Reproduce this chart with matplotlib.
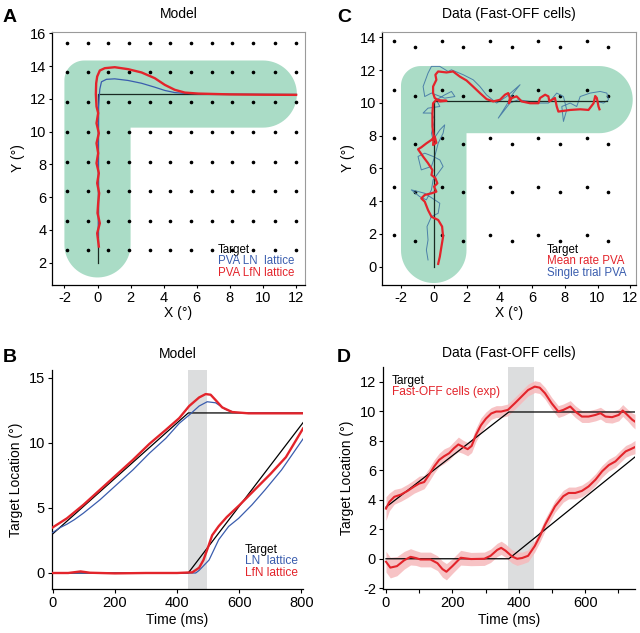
import numpy as np
import matplotlib
matplotlib.use("Agg")
import matplotlib.pyplot as plt
from matplotlib.patches import Polygon

plt.rcParams['font.family'] = ['Liberation Sans', 'DejaVu Sans']
plt.rcParams['axes.unicode_minus'] = False

# ---------------- DATA ----------------
# Panel A (model, 2D trajectory)
A_lat_x = [-1.86, -0.6, 0.65, 1.9, 3.15, 4.4, 5.65, 6.9, 8.15, 9.4, 10.7, 12.0]
A_lat_y = [2.78, 4.57, 6.39, 8.14, 10.01, 11.81, 13.62, 15.41]
A_target_x = [0, 0, 12]
A_target_y = [2.0, 12.3, 12.3]
A_ln_x = [0.05, 0.06, 0.05, 0.06, 0.1, 0.14, 0.24, 0.54, 1.04, 1.85, 2.66, 3.46, 4.07, 4.67, 5.28, 7.0, 12.0]
A_ln_y = [3.6, 6.0, 9.0, 11.5, 12.1, 12.6, 13.05, 13.2, 13.23, 13.13, 12.96, 12.72, 12.52, 12.39, 12.34, 12.3, 12.27]
A_lfn_x = [0.08, -0.02, 0.14, 0.0, 0.04, 0.1, -0.02, 0.08, -0.06, 0.04, -0.06, 0.08, -0.06, 0.04, -0.06, -0.1,
           -0.08, -0.02, 0.14, 0.44, 1.04, 1.85, 2.66, 3.46, 4.07, 4.67, 5.28, 6.08, 8.0, 10.0, 12.0]
A_lfn_y = [2.99, 3.8, 4.41, 5.03, 5.64, 6.25, 6.86, 7.47, 8.08, 8.69, 9.3, 9.91, 10.52, 11.14, 11.54, 12.3,
           12.96, 13.37, 13.74, 13.88, 13.94, 13.82, 13.62, 13.27, 12.86, 12.56, 12.39, 12.33, 12.28, 12.26, 12.25]

# Panel C (data, 2D trajectory)
C_lat_x1 = [-2.45, 0.51, 3.45, 6.39, 9.35]
C_lat_y1 = [13.75, 10.8, 7.85, 4.89, 1.92]
C_lat_x2 = [-1.16, 1.8, 4.76, 7.7, 10.63]
C_lat_y2 = [13.41, 10.45, 7.5, 4.55, 1.57]
C_target_x = [0, 0, 10.6]
C_target_y = [0.0, 10.1, 10.1]
C_mean_x = [0.27, 0.37, 0.47, 0.57, 0.51, 0.27, -0.14, -0.35, -0.55, -0.76, -0.55, -0.14, 0.16, 0.02, 0.22,
            0.1, -0.14, -0.08, -0.35, -0.65, -0.96, -0.76, -0.45, -0.14, 0.06, 0.16, -0.04, 0.0, -0.08, -0.08,
            -0.04, 0.16, 0.47, 0.78, 0.37, 0.06, -0.04, -0.04, 0.16, 0.1, 0.27, 0.78, 1.18, 1.59, 2.0, 2.4,
            2.82, 3.23, 3.63, 4.04, 4.35, 4.55, 4.65, 4.59, 4.76, 5.06, 5.37, 5.88, 6.39, 6.49, 6.8, 7.0,
            7.06, 7.4, 7.51, 7.61, 8.33, 8.94, 9.45, 9.76, 9.86, 9.96, 10.06, 10.12]
C_mean_y = [0.17, 0.61, 1.23, 1.83, 2.45, 2.85, 3.05, 3.46, 3.97, 4.17, 4.38, 4.48, 4.58, 4.89, 5.09,
            5.4, 5.6, 5.9, 6.32, 6.72, 7.17, 7.29, 7.53, 7.74, 7.94, 7.57, 7.43, 7.94, 8.56, 9.37,
            9.98, 10.19, 10.15, 10.13, 10.09, 10.3, 10.6, 11.0, 11.41, 11.72, 11.92, 11.86, 11.92, 11.61, 11.37, 11.0,
            10.6, 10.23, 10.09, 10.19, 10.5, 10.6, 10.3, 9.98, 10.3, 10.4, 10.09, 9.98, 9.98, 10.3, 10.5, 10.4,
            10.09, 10.3, 9.78, 9.47, 9.57, 9.61, 9.57, 9.98, 10.42, 10.3, 9.78, 9.61]
C_single_x = [-0.35, -0.45, -0.35, -0.41, -0.14, 0.27, 0.37, 0.06, -0.55, -0.96, -1.37, -0.86, -0.45, -0.14,
              -0.04, 0.27, 0.57, 0.37, -0.04, -0.55, -0.96, -0.76, -0.14, 0.06, 0.27, 0.57, 0.67, 0.37, -0.04,
              -0.14, 0.06, -0.14, -0.65, -0.35, 0.37, 0.16, 0.67, 1.08, 1.29, 0.67, -0.14, -0.55, -0.65, -0.35,
              -0.14, 0.37, 0.88, 1.08, 1.8, 2.41, 2.82, 3.22, 3.84, 4.45, 5.27, 4.86, 4.45, 3.94, 4.65, 5.16,
              5.88, 6.49, 7.0, 7.51, 7.92, 8.12, 7.92, 7.82, 8.33, 8.73, 8.94, 9.55, 10.16, 10.57, 10.67, 10.37, 9.96]
C_single_y = [0.41, 1.02, 1.63, 2.45, 3.06, 3.26, 3.87, 4.08, 4.48, 4.59, 4.69, 4.28, 4.08, 4.69,
              5.3, 5.71, 6.12, 6.52, 6.73, 6.93, 6.73, 5.91, 6.12, 6.73, 7.54, 8.15, 8.66, 8.35, 7.74,
              8.15, 8.97, 9.38, 9.38, 9.68, 9.78, 10.19, 10.49, 10.7, 10.39, 10.29, 10.6, 10.39, 11.0, 11.82,
              12.23, 12.23, 11.92, 12.02, 11.72, 11.41, 11.0, 10.49, 9.99, 10.39, 11.11, 10.6, 9.88, 9.07, 9.99, 10.19,
              10.09, 9.99, 9.99, 10.6, 10.39, 9.58, 8.87, 9.78, 9.99, 9.78, 10.39, 10.6, 10.7, 10.6, 10.19, 9.99, 10.09]

# Panel B (model, time courses)
B_band = [436, 495]
B_tgt_t = [0, 436, 805]
B_tgt_up = [3.0, 12.3, 12.3]
B_tgt_lo = [0.0, 0.0, 11.55]
B_red_up_t = [0, 46, 99, 152, 205, 258, 311, 364, 407, 439, 471, 492, 508, 524, 545, 577, 630, 805]
B_red_up = [3.5, 4.2, 5.24, 6.39, 7.54, 8.69, 9.92, 11.0, 11.9, 12.83, 13.49, 13.75, 13.7, 13.29, 12.73, 12.37, 12.27, 12.27]
B_blue_up_t = [0, 25, 46, 70, 99, 152, 205, 258, 311, 364, 407, 439, 471, 497, 524, 556, 588, 805]
B_blue_up = [3.1, 3.5, 3.75, 4.1, 4.6, 5.62, 6.77, 7.92, 9.2, 10.35, 11.5, 12.14, 12.83, 13.16, 13.08, 12.57, 12.32, 12.27]
B_red_lo_t = [0, 50, 90, 120, 200, 300, 400, 449, 471, 485, 500, 513, 534, 560, 600, 650, 700, 750, 805]
B_red_lo = [0.0, 0.0, 0.12, 0.02, -0.03, 0.0, 0.0, 0.05, 0.4, 1.0, 2.0, 2.9, 3.6, 4.3, 5.2, 6.4, 7.6, 8.9, 11.1]
B_blue_lo_t = [0, 100, 200, 300, 400, 460, 471, 503, 534, 566, 598, 641, 683, 736, 805]
B_blue_lo = [0.0, 0.0, -0.02, 0.0, 0.0, 0.0, 0.2, 1.0, 2.56, 3.58, 4.2, 5.24, 6.39, 7.92, 10.3]

# Panel D (data, time courses)
D_band = [367, 446]
D_tgt_t = [0, 370, 750]
D_tgt_up = [3.5, 9.95, 9.95]
D_tgt_lo = [0.0, 0.0, 6.9]
D_up_t = [0, 10, 25, 45, 65, 85, 100, 115, 130, 145, 160, 175, 190, 205, 218, 231, 246, 258, 271, 286, 301,
          317, 332, 347, 367, 388, 408, 428, 448, 463, 479, 499, 519, 534, 555, 570, 590, 610, 631, 646, 661,
          681, 701, 713, 727, 742, 750]
D_up = [3.4, 3.85, 4.2, 4.35, 4.6, 4.9, 5.1, 5.2, 5.7, 6.25, 6.7, 6.95, 7.15, 7.5, 7.75, 7.6, 7.43, 7.65, 8.4,
        9.05, 9.5, 9.85, 9.98, 9.98, 10.09, 10.54, 10.99, 11.44, 11.67, 11.6, 11.22, 10.54, 9.98, 10.09, 10.32,
        9.98, 9.64, 9.64, 9.75, 9.87, 9.64, 9.6, 9.75, 10.05, 9.75, 9.42, 9.3]
D_up_err = [0.8, 0.6, 0.5, 0.45, 0.45, 0.45, 0.5, 0.45, 0.45, 0.45, 0.45, 0.5, 0.45, 0.45, 0.5, 0.45, 0.45, 0.45,
            0.45, 0.5, 0.45, 0.4, 0.4, 0.4, 0.4, 0.4, 0.4, 0.4, 0.4, 0.4, 0.4, 0.4, 0.4, 0.4, 0.4, 0.4, 0.4, 0.4,
            0.4, 0.4, 0.4, 0.4, 0.4, 0.4, 0.4, 0.45, 0.5]
D_lo_t = [0, 13, 33, 55, 74, 90, 104, 134, 155, 170, 182, 200, 225, 256, 296, 315, 335, 347, 360, 380, 395,
          410, 428, 448, 465, 479, 509, 534, 550, 570, 590, 610, 631, 651, 671, 691, 706, 722, 737, 750]
D_lo = [-0.2, -0.6, -0.5, -0.1, 0.13, 0.05, -0.05, -0.05, -0.3, -0.7, -0.88, -0.5, 0.07, -0.02, 0.0, 0.2, 0.6,
        0.74, 0.55, 0.15, 0.0, 0.05, 0.2, 0.86, 1.6, 2.3, 3.55, 4.24, 4.46, 4.46, 4.6, 4.9, 5.36, 5.93, 6.35,
        6.6, 6.94, 7.28, 7.43, 7.57]
D_lo_err = [0.7, 0.7, 0.65, 0.6, 0.55, 0.5, 0.5, 0.5, 0.5, 0.55, 0.55, 0.5, 0.5, 0.45, 0.45, 0.45, 0.45, 0.45,
            0.45, 0.45, 0.45, 0.4, 0.4, 0.4, 0.4, 0.4, 0.4, 0.4, 0.4, 0.4, 0.4, 0.4, 0.4, 0.4, 0.4, 0.4, 0.4,
            0.4, 0.4, 0.45]

# Corridor (green) geometry: centre x, half width, bottom cap centre, arm centre y, right cap centre
A_corr = dict(cx=0.0, hw=2.0, yb=3.1, yh=12.3, hwh=2.05, xr=10.0, rc=1.2)
C_corr = dict(cx=0.0, hw=2.0, yb=1.0, yh=10.2, hwh=2.05, xr=10.1, rc=1.2)

# ---------------- STYLE ----------------
GREEN = '#AADCC6'
RED = '#E3242B'
BLUE = '#3A5DAE'
TEAL = '#4C80A8'
PINK = '#F6B9BB'
GRAY = '#DCDDDE'
FS_TICK = 10.5
FS_LAB = 10
FS_TITLE = 10
FS_LEG = 8.3


def corridor(ax, cx, hw, yb, yh, hwh, xr, rc):
    pts = [(cx + hw, yb), (cx + hw, yh - hwh), (xr, yh - hwh)]
    for a in np.linspace(-np.pi / 2, np.pi / 2, 40):
        pts.append((xr + hwh * np.cos(a), yh + hwh * np.sin(a)))
    pts.append((cx - hw + rc, yh + hwh))
    for a in np.linspace(np.pi / 2, np.pi, 20):
        pts.append((cx - hw + rc + rc * np.cos(a), yh + hwh - rc + rc * np.sin(a)))
    pts.append((cx - hw, yb))
    for a in np.linspace(np.pi, 2 * np.pi, 40):
        pts.append((cx + hw * np.cos(a), yb + hw * np.sin(a)))
    ax.add_patch(Polygon(pts, closed=True, fc=GREEN, ec='none', zorder=0))


def style_box(ax):
    for s in ['top', 'right']:
        ax.spines[s].set_color('#9a9a9a')
        ax.spines[s].set_linewidth(0.8)
    for s in ['left', 'bottom']:
        ax.spines[s].set_linewidth(0.9)
    ax.tick_params(direction='out', length=2.5, width=0.8, labelsize=FS_TICK, pad=1.5,
                   top=False, right=False)


def style_open(ax):
    for s in ['top', 'right']:
        ax.spines[s].set_visible(False)
    for s in ['left', 'bottom']:
        ax.spines[s].set_linewidth(0.9)
    ax.tick_params(direction='out', length=3, width=0.8, labelsize=FS_TICK, pad=2)


fig = plt.figure(figsize=(6.4, 6.33), dpi=100)

# ---- Panel A ----
axA = fig.add_axes([52 / 640, 1 - 285 / 633, 253 / 640, 253 / 633])
corridor(axA, **A_corr)
gx, gy = np.meshgrid(A_lat_x, A_lat_y)
axA.plot(gx.ravel(), gy.ravel(), 'o', ms=1.6, color='black', zorder=2)
axA.plot(A_target_x, A_target_y, color='#1a2a22', lw=0.9, zorder=3)
axA.plot(A_ln_x, A_ln_y, color=BLUE, lw=0.9, zorder=4)
axA.plot(A_lfn_x, A_lfn_y, color=RED, lw=1.7, zorder=5)
axA.set_xlim(-2.75, 12.54)
axA.set_ylim(0.64, 16.09)
axA.set_xticks(range(-2, 13, 2))
axA.set_yticks(range(2, 17, 2))
style_box(axA)
axA.set_xlabel('X (°)', fontsize=FS_LAB, labelpad=1)
axA.set_ylabel('Y (°)', fontsize=FS_LAB, labelpad=4)
axA.set_title('Model', fontsize=FS_TITLE, pad=10)
axA.text(0.656, 0.138, 'Target', color='black', fontsize=FS_LEG, transform=axA.transAxes, va='center')
axA.text(0.656, 0.095, 'PVA LN  lattice', color=BLUE, fontsize=FS_LEG, transform=axA.transAxes, va='center')
axA.text(0.656, 0.049, 'PVA LfN lattice', color=RED, fontsize=FS_LEG, transform=axA.transAxes, va='center')

# ---- Panel C ----
axC = fig.add_axes([382 / 640, 1 - 285 / 633, 254 / 640, 253 / 633])
corridor(axC, **C_corr)
g1x, g1y = np.meshgrid(C_lat_x1, C_lat_y1)
g2x, g2y = np.meshgrid(C_lat_x2, C_lat_y2)
axC.plot(g1x.ravel(), g1y.ravel(), 'o', ms=1.6, color='black', zorder=2)
axC.plot(g2x.ravel(), g2y.ravel(), 'o', ms=1.6, color='black', zorder=2)
axC.plot(C_single_x, C_single_y, color=TEAL, lw=0.7, zorder=3)
axC.plot(C_target_x, C_target_y, color='#1a2a22', lw=0.9, zorder=4)
axC.plot(C_mean_x, C_mean_y, color=RED, lw=1.6, zorder=5)
axC.set_xlim(-3.16, 12.35)
axC.set_ylim(-1.12, 14.33)
axC.set_xticks(range(-2, 13, 2))
axC.set_yticks(range(0, 15, 2))
style_box(axC)
axC.set_xlabel('X (°)', fontsize=FS_LAB, labelpad=1)
axC.set_ylabel('Y (°)', fontsize=FS_LAB, labelpad=4)
axC.set_title('Data (Fast-OFF cells)', fontsize=FS_TITLE, pad=10)
axC.text(0.649, 0.138, 'Target', color='black', fontsize=FS_LEG, transform=axC.transAxes, va='center')
axC.text(0.649, 0.095, 'Mean rate PVA', color=RED, fontsize=FS_LEG, transform=axC.transAxes, va='center')
axC.text(0.649, 0.049, 'Single trial PVA', color=BLUE, fontsize=FS_LEG, transform=axC.transAxes, va='center')

# ---- Panel B ----
axB = fig.add_axes([52 / 640, 1 - 589 / 633, 251 / 640, 219 / 633])
axB.axvspan(B_band[0], B_band[1], color=GRAY, lw=0, zorder=0)
axB.plot(B_tgt_t, B_tgt_up, color='black', lw=0.9, zorder=2)
axB.plot(B_tgt_t, B_tgt_lo, color='black', lw=0.9, zorder=2)
axB.plot(B_blue_up_t, B_blue_up, color=BLUE, lw=0.9, zorder=3)
axB.plot(B_blue_lo_t, B_blue_lo, color=BLUE, lw=0.9, zorder=3)
axB.plot(B_red_up_t, B_red_up, color=RED, lw=1.7, zorder=4)
axB.plot(B_red_lo_t, B_red_lo, color=RED, lw=1.7, zorder=4)
axB.set_xlim(-2, 805)
axB.set_ylim(-1.23, 15.6)
axB.set_xticks([0, 200, 400, 600, 800])
axB.set_yticks([0, 5, 10, 15])
style_open(axB)
axB.set_xlabel('Time (ms)', fontsize=FS_LAB, labelpad=2)
axB.set_ylabel('Target Location (°)', fontsize=FS_LAB, labelpad=4)
axB.set_title('Model', fontsize=FS_TITLE, pad=9)
axB.text(0.767, 0.179, 'Target', color='black', fontsize=FS_LEG + 0.3, transform=axB.transAxes, va='center')
axB.text(0.767, 0.126, 'LN  lattice', color=BLUE, fontsize=FS_LEG + 0.3, transform=axB.transAxes, va='center')
axB.text(0.767, 0.073, 'LfN lattice', color=RED, fontsize=FS_LEG + 0.3, transform=axB.transAxes, va='center')

# ---- Panel D ----
axD = fig.add_axes([383 / 640, 1 - 589 / 633, 252 / 640, 222 / 633])
axD.axvspan(D_band[0], D_band[1], color=GRAY, lw=0, zorder=0)
up = np.array(D_up); upe = np.array(D_up_err)
lo = np.array(D_lo); loe = np.array(D_lo_err)
axD.fill_between(D_up_t, up - upe, up + upe, color=PINK, lw=0, alpha=0.85, zorder=1)
axD.fill_between(D_lo_t, lo - loe, lo + loe, color=PINK, lw=0, alpha=0.85, zorder=1)
axD.plot(D_tgt_t, D_tgt_up, color='black', lw=0.9, zorder=2)
axD.plot(D_tgt_t, D_tgt_lo, color='black', lw=0.9, zorder=2)
axD.plot(D_up_t, D_up, color=RED, lw=1.5, zorder=3)
axD.plot(D_lo_t, D_lo, color=RED, lw=1.5, zorder=3)
axD.set_xlim(-9, 750)
axD.set_ylim(-2.05, 13.0)
axD.set_xticks([0, 200, 400, 600])
axD.set_xticks([100, 300, 500, 700], minor=True)
axD.set_yticks(range(-2, 13, 2))
style_open(axD)
axD.tick_params(which='minor', direction='out', length=3, width=0.8)
axD.set_xlabel('Time (ms)', fontsize=FS_LAB, labelpad=2)
axD.set_ylabel('Target Location (°)', fontsize=FS_LAB, labelpad=4)
axD.set_title('Data (Fast-OFF cells)', fontsize=FS_TITLE, pad=7)
axD.text(0.036, 0.937, 'Target', color='black', fontsize=FS_LEG + 0.3, transform=axD.transAxes, va='center')
axD.text(0.036, 0.887, 'Fast-OFF cells (exp)', color=RED, fontsize=FS_LEG + 0.3, transform=axD.transAxes, va='center')

# Panel letters
for lbl, x, y in [('A', 3, 22), ('C', 337, 22), ('B', 3, 362), ('D', 337, 362)]:
    fig.text(x / 640, 1 - y / 633, lbl, fontsize=14, fontweight='bold', va='baseline', ha='left')

fig.savefig('out.png', dpi=100)
